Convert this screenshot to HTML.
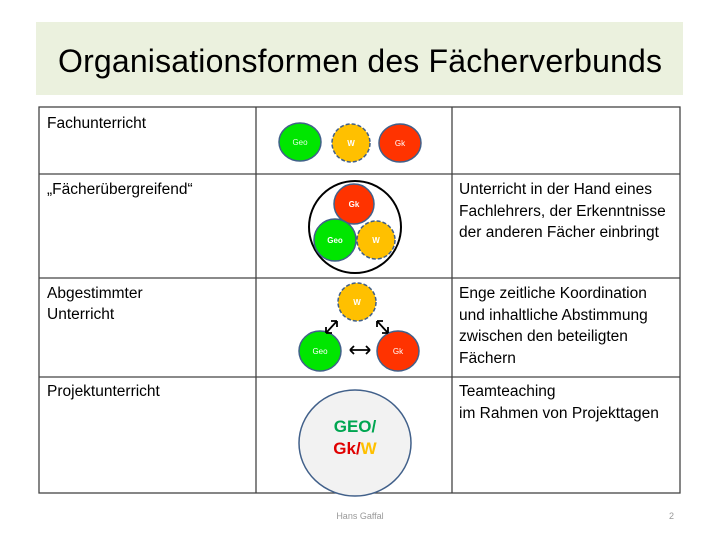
<!DOCTYPE html><html><head><style>body{margin:0;background:#fff}svg{display:block}text{font-family:"Liberation Sans",sans-serif}</style></head><body>
<svg width="720" height="540" viewBox="0 0 720 540">
<rect x="36" y="22" width="647" height="73" fill="#ebf1de"/>
<text x="360" y="72" text-anchor="middle" font-size="32" textLength="604" fill="#000">Organisationsformen des Fächerverbunds</text>
<g stroke="#444" stroke-width="1.3" fill="none">
<rect x="39" y="107" width="641" height="386"/>
<line x1="39" y1="174" x2="680" y2="174"/><line x1="39" y1="278" x2="680" y2="278"/><line x1="39" y1="377" x2="680" y2="377"/>
<line x1="256" y1="107" x2="256" y2="493"/><line x1="452" y1="107" x2="452" y2="493"/>
</g>
<g font-size="15.5" fill="#000">
<text x="47" y="128">Fachunterricht</text>
<text x="47" y="194">„Fächerübergreifend“</text>
<text x="47" y="298">Abgestimmter</text><text x="47" y="319">Unterricht</text>
<text x="47" y="396">Projektunterricht</text>
<text x="459" y="194">Unterricht in der Hand eines</text><text x="459" y="216">Fachlehrers, der Erkenntnisse</text><text x="459" y="237">der anderen Fächer einbringt</text>
<text x="459" y="298">Enge zeitliche Koordination</text><text x="459" y="320">und inhaltliche Abstimmung</text><text x="459" y="341">zwischen den beteiligten</text><text x="459" y="363">Fächern</text>
<text x="459" y="396">Teamteaching</text><text x="459" y="418">im Rahmen von Projekttagen</text>
</g>
<g stroke="#41608a" stroke-width="1.5" font-size="8" text-anchor="middle">
<ellipse cx="300" cy="142" rx="21" ry="19" fill="#00e600"/>
<ellipse cx="351" cy="143" rx="19" ry="19" fill="#ffc000" stroke-dasharray="4 2"/>
<ellipse cx="400" cy="143" rx="21" ry="19" fill="#ff3300"/>
<circle cx="355" cy="227" r="46" fill="none" stroke="#000" stroke-width="2"/>
<circle cx="354" cy="204" r="20" fill="#ff3300"/>
<circle cx="335" cy="240" r="21" fill="#00e600"/>
<circle cx="376" cy="240" r="19" fill="#ffc000" stroke-dasharray="4 2"/>
<circle cx="357" cy="302" r="19" fill="#ffc000" stroke-dasharray="4 2"/>
<ellipse cx="320" cy="351" rx="21" ry="20" fill="#00e600"/>
<ellipse cx="398" cy="351" rx="21" ry="20" fill="#ff3300"/>
<ellipse cx="355" cy="443" rx="56" ry="53" fill="#f2f2f2"/>
</g>
<g fill="#fff" font-size="8" text-anchor="middle" font-weight="bold">
<text x="300" y="145" font-weight="normal" fill="#e0ffe0">Geo</text><text x="351" y="146">W</text><text x="400" y="146" font-weight="normal">Gk</text>
<text x="354" y="207">Gk</text><text x="335" y="243">Geo</text><text x="376" y="243">W</text>
<text x="357" y="305">W</text><text x="320" y="354" font-weight="normal">Geo</text><text x="398" y="354" font-weight="normal">Gk</text>
</g>
<g stroke="#000" stroke-width="1.8" fill="none">
<path d="M337 321 L326 333 M337 321 l-6 0 M337 321 l0 6 M326 333 l6 0 M326 333 l0 -6"/>
<path d="M377 321 L388 333 M377 321 l6 0 M377 321 l0 6 M388 333 l-6 0 M388 333 l0 -6"/>
<path d="M350 350 L370 350 M350 350 l4 -4 M350 350 l4 4 M370 350 l-4 -4 M370 350 l-4 4"/>
</g>
<g font-size="17" font-weight="bold" text-anchor="middle">
<text x="355" y="432" fill="#00a651">GEO/</text>
<text x="355" y="454"><tspan fill="#e00000">Gk/</tspan><tspan fill="#ffc000">W</tspan></text>
</g>
<text x="360" y="519" font-size="9" fill="#999" text-anchor="middle">Hans Gaffal</text>
<text x="674" y="519" font-size="9" fill="#999" text-anchor="end">2</text>
</svg></body></html>
